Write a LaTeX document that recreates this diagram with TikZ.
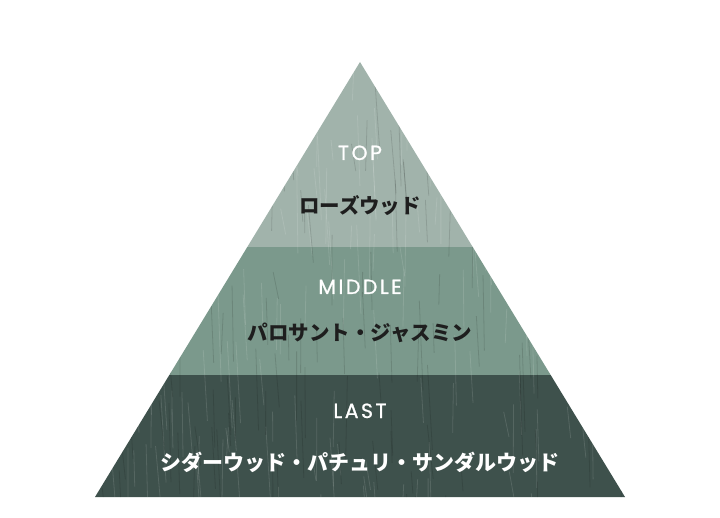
\documentclass[tikz,border=0pt]{standalone}
\usepackage{fontspec}
\setmainfont{Poppins}
\newfontfamily\jpfont{Noto Sans CJK JP}
\newfontfamily\latfont{Poppins}[LetterSpace=12,FakeBold=1]
\definecolor{topband}{HTML}{A1B3AB}
\definecolor{midband}{HTML}{7B998C}
\definecolor{lastband}{HTML}{3E514C}
\definecolor{inkdark}{HTML}{1E1E1E}
\tikzset{
  head/.style={font=\latfont\fontsize{20.5}{24}\selectfont, text=white, inner sep=0pt, anchor=base},
  jpdark/.style={font=\jpfont\bfseries\fontsize{20.5}{24}\selectfont, text=inkdark, inner sep=0pt, anchor=base},
  jplight/.style={font=\jpfont\bfseries\fontsize{21}{24}\selectfont, text=white, inner sep=0pt, anchor=base},
  grain/.style={line width=0.8pt, opacity=0.12}
}
\begin{document}
\begin{tikzpicture}[x=1pt,y=-1pt]
\useasboundingbox (0,0) rectangle (720,518);
\fill[white] (0,0) rectangle (720,518);
\coordinate (apex) at (360,62);
\coordinate (bl) at (95,497);
\coordinate (br) at (625,497);
\begin{scope}
  \clip (apex) -- (br) -- (bl) -- cycle;
  \fill[topband] (90,55) rectangle (630,247);
  \fill[midband] (90,247) rectangle (630,375);
  \fill[lastband] (90,375) rectangle (630,500);
  \pgfmathsetseed{7}
  \foreach \i in {1,...,160}{
    \pgfmathsetmacro{\xa}{95+530*rnd}
    \pgfmathsetmacro{\ya}{60+440*rnd}
    \pgfmathsetmacro{\len}{20+70*rnd}
    \pgfmathsetmacro{\dx}{8*rnd-2}
    \draw[grain, white] (\xa,\ya) -- ++(\dx,\len);
  }
  \foreach \i in {1,...,120}{
    \pgfmathsetmacro{\xa}{95+530*rnd}
    \pgfmathsetmacro{\ya}{60+440*rnd}
    \pgfmathsetmacro{\len}{20+70*rnd}
    \pgfmathsetmacro{\dx}{8*rnd-2}
    \draw[grain, black] (\xa,\ya) -- ++(\dx,\len);
  }
\end{scope}
\node[head] (top) at (360,160) {TOP};
\node[jpdark] (topj) at (360,214) {ローズウッド};
\node[head] (mid) at (360,294) {MIDDLE};
\node[jpdark] (midj) at (360,341) {パロサント・ジャスミン};
\node[head] (last) at (360,418) {LAST};
\node[jplight] (lastj) at (360,470) {シダーウッド・パチュリ・サンダルウッド};
\end{tikzpicture}
\end{document}
